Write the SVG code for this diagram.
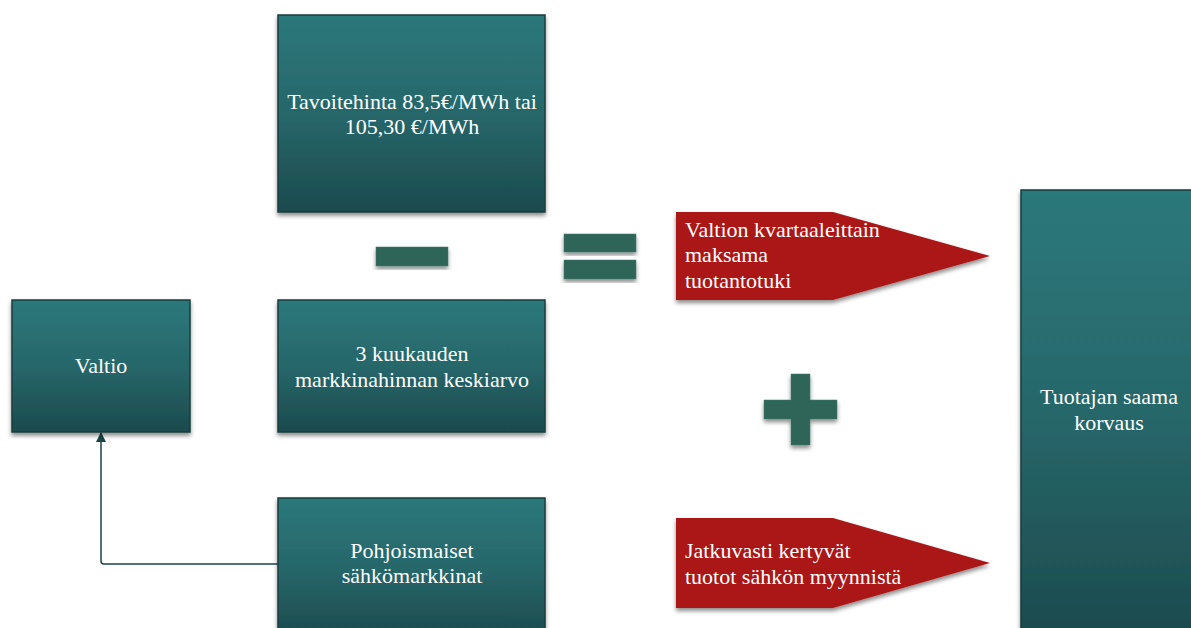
<svg xmlns="http://www.w3.org/2000/svg" width="1191" height="628" viewBox="0 0 1191 628">
<style>
.box{fill:url(#g);stroke:#183d3f;stroke-width:1.5;filter:url(#sh)}
.sym{fill:#2e6558;stroke:#3d7a6b;stroke-width:0.5;filter:url(#sh)}
.red{fill:#ab1717;filter:url(#sh)}
.t{font-family:'Liberation Serif','Noto Serif','DejaVu Serif',Times,serif;font-size:22px;fill:#ffffff}
.c{text-anchor:middle}
</style>
<defs>
<linearGradient id="g" x1="0" y1="0" x2="0" y2="1">
<stop offset="0" stop-color="#2c787b"/>
<stop offset="0.5" stop-color="#27676a"/>
<stop offset="1" stop-color="#1c4a4d"/>
</linearGradient>
<filter id="sh" x="-10%" y="-10%" width="120%" height="130%">
<feDropShadow dx="0" dy="3" stdDeviation="2" flood-color="#000" flood-opacity="0.45"/>
</filter>
<marker id="ah" markerWidth="10" markerHeight="10" refX="9" refY="5" orient="auto" markerUnits="userSpaceOnUse" viewBox="0 0 10 10">
<path d="M0,0 L10,5 L0,10 Z" fill="#1a4446"/>
</marker>
</defs>
<rect width="1191" height="628" fill="#ffffff"/>
<g id="connectors">
<path d="M278,564 H104 Q101,564 101,561 V433" fill="none" stroke="#1a4446" stroke-width="1.5" marker-end="url(#ah)"/>
</g>
<g id="tavoitehinta">
<rect class="box" x="278" y="15" width="267" height="197"/>
<text class="t c" x="412" y="109">Tavoitehinta 83,5€/MWh tai</text>
<text class="t c" x="412" y="134">105,30 €/MWh</text>
</g>
<g id="miinus">
<rect class="sym" x="376" y="247" width="72" height="19"/>
</g>
<g id="yhtasuuri">
<rect class="sym" x="564" y="234" width="72" height="18"/>
<rect class="sym" x="564" y="260" width="72" height="19"/>
</g>
<g id="tuotantotuki">
<path class="red" d="M676,212 H833 L990,256 L833,300 H676 Z"/>
<text class="t" x="685" y="237">Valtion kvartaaleittain</text>
<text class="t" x="685" y="262">maksama</text>
<text class="t" x="685" y="288">tuotantotuki</text>
</g>
<g id="valtio">
<rect class="box" x="12" y="300" width="178" height="132"/>
<text class="t c" x="101" y="373">Valtio</text>
</g>
<g id="keskiarvo">
<rect class="box" x="278" y="300" width="267" height="132"/>
<text class="t c" x="412" y="361">3 kuukauden</text>
<text class="t c" x="412" y="387">markkinahinnan keskiarvo</text>
</g>
<g id="plus">
<path class="sym" d="M791,374 H810 V400 H837 V419 H810 V445 H791 V419 H764 V400 H791 Z"/>
</g>
<g id="pohjoismaiset">
<rect class="box" x="278" y="498" width="267" height="140"/>
<text class="t c" x="412" y="558">Pohjoismaiset</text>
<text class="t c" x="412" y="583">sähkömarkkinat</text>
</g>
<g id="myyntituotot">
<path class="red" d="M676,518 H833 L990,563 L833,608 H676 Z"/>
<text class="t" x="685" y="558">Jatkuvasti kertyvät</text>
<text class="t" x="685" y="584">tuotot sähkön myynnistä</text>
</g>
<g id="korvaus">
<rect class="box" x="1021" y="190" width="180" height="450"/>
<text class="t c" x="1109" y="404">Tuotajan saama</text>
<text class="t c" x="1109" y="430">korvaus</text>
</g>
</svg>
